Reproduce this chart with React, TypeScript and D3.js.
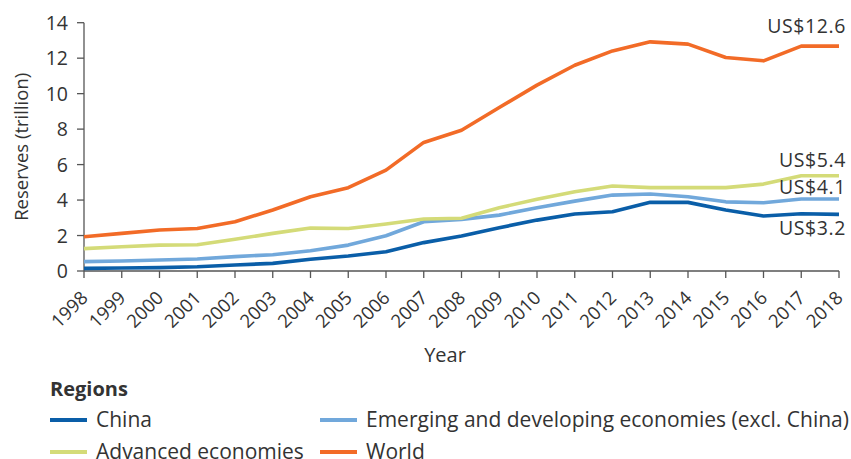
import React from "react";
import * as d3 from "d3";

const years = [1998,1999,2000,2001,2002,2003,2004,2005,2006,2007,2008,2009,2010,2011,2012,2013,2014,2015,2016,2017,2018];
const china = [0.15,0.17,0.19,0.24,0.34,0.43,0.66,0.85,1.09,1.6,1.97,2.44,2.87,3.21,3.34,3.87,3.87,3.44,3.1,3.23,3.19];
const emerging = [0.53,0.56,0.62,0.68,0.81,0.92,1.14,1.46,1.99,2.78,2.91,3.15,3.57,3.94,4.28,4.34,4.19,3.9,3.85,4.06,4.06];
const advanced = [1.26,1.37,1.46,1.48,1.79,2.12,2.42,2.4,2.65,2.93,2.97,3.57,4.04,4.47,4.79,4.7,4.7,4.7,4.9,5.37,5.37];
const world = [1.93,2.12,2.31,2.4,2.78,3.44,4.19,4.7,5.69,7.25,7.94,9.22,10.48,11.6,12.41,12.92,12.79,12.04,11.85,12.68,12.68];
const yTicks = [0,2,4,6,8,10,12,14];
const endLabels = ["US$12.6","US$5.4","US$4.1","US$3.2"];
const seriesNames = ["China","Emerging and developing economies (excl. China)","Advanced economies","World"];

const FONT = "'Open Sans', sans-serif";
const TEXT = "#333";
const AXIS = "#555";

export default function App() {
  const x = d3.scaleLinear().domain([1998, 2018]).range([84, 839]);
  const y = d3.scaleLinear().domain([0, 14]).range([271, 22.7]);
  const colors = ["#0a5ea8", "#71a8db", "#d4db78", "#f26b27"];
  const data = [china, emerging, advanced, world];
  const line = d3.line<number>().x((_, i) => x(years[i])).y((d) => y(d));

  const labelPos = [
    { v: world[20], dy: -13 },
    { v: advanced[20], dy: -9 },
    { v: emerging[20], dy: -5 },
    { v: china[20], dy: 21 },
  ];

  const legend = [
    { i: 0, lx: 50, ly: 420 },
    { i: 1, lx: 320, ly: 420 },
    { i: 2, lx: 50, ly: 452 },
    { i: 3, lx: 320, ly: 452 },
  ];

  return (
    <svg width={851} height={459} style={{ position: "absolute", left: 0, top: 0, background: "#fff" }} fontFamily={FONT}>
      {/* axes */}
      <line x1={84} x2={84} y1={y(14)} y2={y(0)} stroke={AXIS} strokeWidth={1.3} />
      <line x1={84} x2={839} y1={y(0)} y2={y(0)} stroke={AXIS} strokeWidth={1.3} />
      {yTicks.map((t) => (
        <g key={t}>
          <line x1={77} x2={84} y1={y(t)} y2={y(t)} stroke={AXIS} strokeWidth={1.3} />
          <text x={68} y={y(t)} dy="0.36em" textAnchor="end" fontSize={19.5} fill={TEXT}>{t}</text>
        </g>
      ))}
      {years.map((yr) => (
        <g key={yr}>
          <line x1={x(yr)} x2={x(yr)} y1={y(0)} y2={y(0) + 7} stroke={AXIS} strokeWidth={1.3} />
          <text transform={`translate(${x(yr) + 5},${y(0) + 28}) rotate(-45)`} textAnchor="end" fontSize={18.5} fill={TEXT}>{yr}</text>
        </g>
      ))}
      <text transform={`translate(22,${(y(0) + y(14)) / 2}) rotate(-90)`} textAnchor="middle" fontSize={18.5} fill={TEXT} dy="0.35em">Reserves (trillion)</text>
      <text x={445} y={362} textAnchor="middle" fontSize={20} fill={TEXT}>Year</text>

      {/* lines */}
      {data.map((d, i) => (
        <path key={i} d={line(d) || ""} fill="none" stroke={colors[i]} strokeWidth={3.6} strokeLinejoin="round" />
      ))}

      {/* end labels */}
      {endLabels.map((lab, i) => (
        <text key={lab} x={846} y={y(labelPos[i].v) + labelPos[i].dy} textAnchor="end" fontSize={19.5} letterSpacing={0.6} fill={TEXT}>{lab}</text>
      ))}

      {/* legend */}
      <text x={50} y={396} fontSize={20} fontWeight="bold" fill={TEXT}>Regions</text>
      {legend.map((l) => (
        <g key={l.i}>
          <line x1={l.lx} x2={l.lx + 37} y1={l.ly} y2={l.ly} stroke={colors[l.i]} strokeWidth={4} />
          <text x={l.lx + 46} y={l.ly} dy="0.35em" fontSize={21} fill={TEXT}>{seriesNames[l.i]}</text>
        </g>
      ))}
    </svg>
  );
}
